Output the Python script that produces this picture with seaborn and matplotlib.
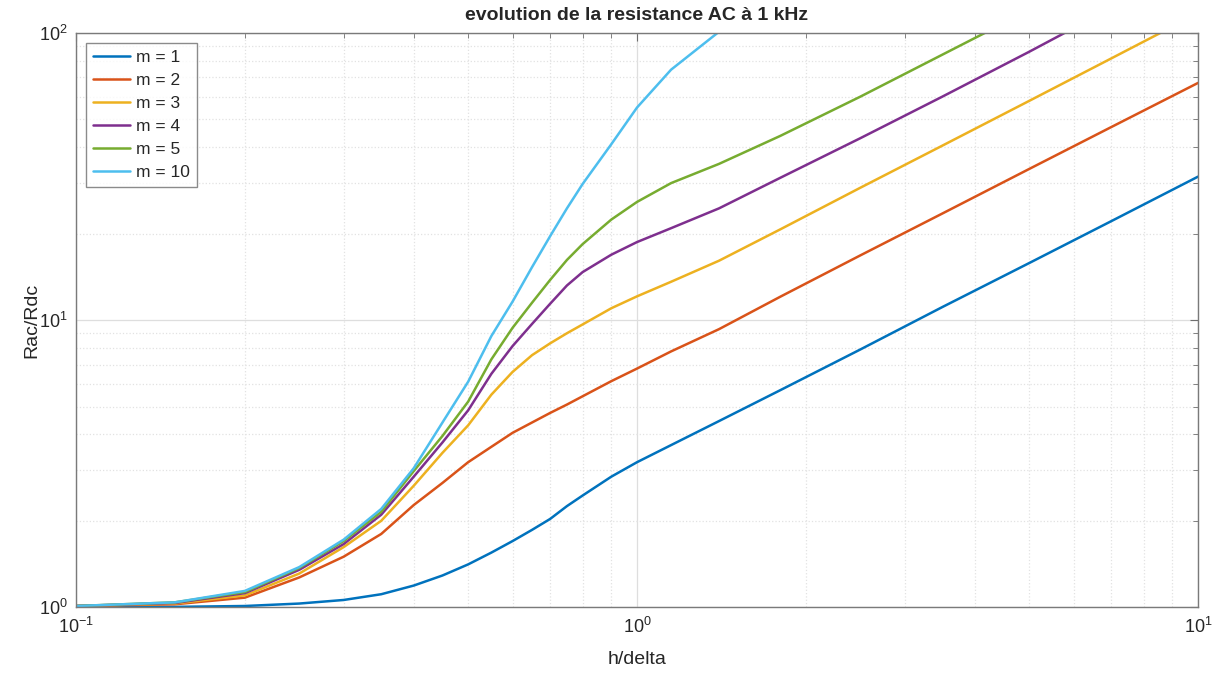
# 권선 높이/표피두께 에 따른 AC 저항비 (Dowell 곡선) 시각화
import numpy as np
import pandas as pd
import matplotlib
matplotlib.use('Agg')
import matplotlib.pyplot as plt
import seaborn as sns

sns.set_style('white')
plt.rcParams['font.family'] = ['Liberation Sans', 'DejaVu Sans']
plt.rcParams['mathtext.fontset'] = 'custom'
plt.rcParams['mathtext.rm'] = 'Liberation Sans'

nan = np.nan

# 그림에서 읽은 값 (h/delta, Rac/Rdc)
h_delta = [0.1, 0.15, 0.2, 0.25, 0.3, 0.35, 0.4, 0.45, 0.5, 0.55, 0.6, 0.65,
           0.7, 0.75, 0.8, 0.9, 1.0, 1.15, 1.4, 1.8, 2.5, 3.5, 5, 7, 10]
m1 = [1.00, 1.003, 1.01, 1.03, 1.06, 1.11, 1.19, 1.29, 1.41, 1.55, 1.70, 1.86,
      2.03, 2.25, 2.45, 2.85, 3.2, 3.67, 4.45, 5.7, 7.9, 11.1, 15.8, 22.1, 31.6]
m2 = [1.01, 1.024, 1.08, 1.27, 1.50, 1.80, 2.27, 2.71, 3.20, 3.62, 4.05, 4.40,
      4.75, 5.08, 5.43, 6.13, 6.78, 7.78, 9.3, 12.06, 16.8, 23.5, 33.6, 47, 67]
m3 = [1.01, 1.03, 1.10, 1.31, 1.62, 2.0, 2.65, 3.45, 4.3, 5.5, 6.6, 7.55,
      8.3, 9.0, 9.66, 11.0, 12.1, 13.6, 16.1, 20.7, 28.9, 40.5, 58, 81.5, 117]
m4 = [1.01, 1.035, 1.12, 1.35, 1.66, 2.1, 2.85, 3.75, 4.85, 6.5, 8.12, 9.7,
      11.4, 13.2, 14.7, 16.9, 18.7, 20.9, 24.5, 31.3, 43, 60, 86, 122, nan]
m5 = [1.01, 1.04, 1.13, 1.37, 1.70, 2.15, 2.98, 3.95, 5.2, 7.3, 9.4, 11.5,
      13.8, 16.2, 18.4, 22.4, 25.8, 30.0, 35.0, 43.8, 60, 84, 120, nan, nan]
m10 = [1.01, 1.04, 1.14, 1.38, 1.72, 2.2, 3.05, 4.4, 6.1, 8.8, 11.6, 15.3,
       19.6, 24.5, 29.8, 41, 55, 74.5, 101, 140, nan, nan, nan, nan, nan]

labels = ['m = 1', 'm = 2', 'm = 3', 'm = 4', 'm = 5', 'm = 10']
series = [m1, m2, m3, m4, m5, m10]
colors = ['#0072BD', '#D95319', '#EDB120', '#7E2F8E', '#77AC30', '#4DBEEE']

# long-form 데이터프레임 생성
rows = []
for lab, ys in zip(labels, series):
    for xv, yv in zip(h_delta, ys):
        rows.append({'h/delta': xv, 'Rac/Rdc': yv, 'm': lab})
df = pd.DataFrame(rows).dropna()

fig = plt.figure(figsize=(12.2, 6.8), dpi=100)
ax = fig.add_axes([0.0623, 0.107, 0.9197, 0.8445])

sns.lineplot(data=df, x='h/delta', y='Rac/Rdc', hue='m', hue_order=labels,
             palette=colors, linewidth=1.8, estimator=None, ax=ax)

ax.set_xscale('log')
ax.set_yscale('log')
ax.set_xlim(0.1, 10)
ax.set_ylim(1, 100)

# MATLAB 스타일 격자 / 눈금
ax.grid(True, which='major', color='#dedede', linewidth=0.9, linestyle='-')
ax.grid(True, which='minor', color='#e2e2e2', linewidth=0.9, linestyle=':')
ax.tick_params(which='both', direction='in', top=True, right=True,
               color='#6e6e6e', labelcolor='#262626', labelsize=13)
ax.tick_params(which='major', length=6)
ax.tick_params(which='minor', length=3.5)
ax.tick_params(axis='x', which='major', pad=7)
ax.tick_params(axis='y', which='major', pad=6)
for sp in ax.spines.values():
    sp.set_color('#7a7a7a')
    sp.set_linewidth(1.0)

ax.set_title('evolution de la resistance AC à 1 kHz', fontweight='bold',
             fontsize=14, pad=9)
ax.set_xlabel('h/delta', fontsize=14, color='#262626', labelpad=10)
ax.set_ylabel('Rac/Rdc', fontsize=14, color='#262626', labelpad=-1)

handles, labs = ax.get_legend_handles_labels()
leg = ax.legend(handles, labs, loc='upper left', fontsize=12.5, frameon=True,
                fancybox=False, edgecolor='#6e6e6e', handlelength=2.1,
                handletextpad=0.35, borderaxespad=0.6, labelspacing=0.45,
                borderpad=0.4)
leg.get_frame().set_linewidth(1.0)

fig.savefig('out.png', dpi=100)
